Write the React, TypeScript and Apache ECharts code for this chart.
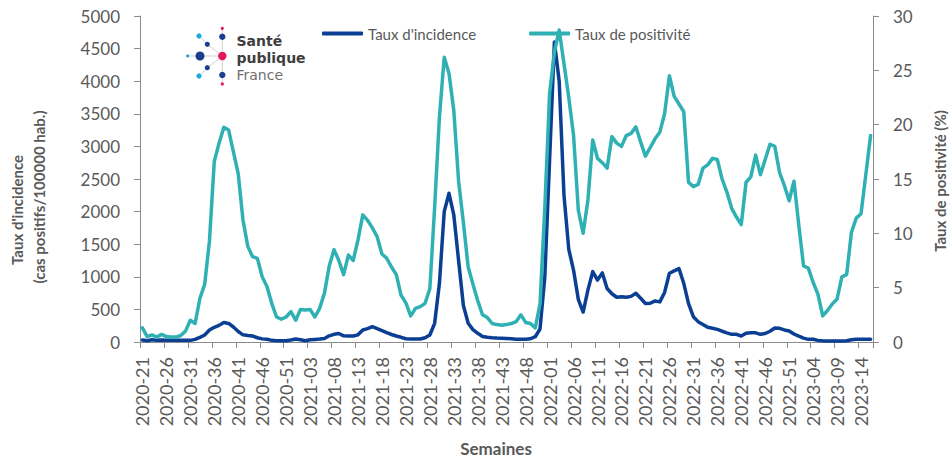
import React, { useEffect, useRef } from "react";
import * as echarts from "echarts";

const FONT = "Lato, 'Open Sans', 'Noto Sans', sans-serif";
const LOGO_FONT = "'DejaVu Sans', Lato, sans-serif";

// Week categories: 2020-21 .. 2023-16 (ISO weeks; 2020 has 53 weeks)
const START_YEAR = 2020;
const START_WEEK = 21;
const WEEKS_IN_YEAR: Record<number, number> = { 2020: 53, 2021: 52, 2022: 52, 2023: 52 };
const N_WEEKS = 153;

function buildWeeks(): string[] {
  const out: string[] = [];
  let y = START_YEAR;
  let w = START_WEEK;
  for (let k = 0; k < N_WEEKS; k++) {
    out.push(`${y}-${w < 10 ? "0" + w : w}`);
    w++;
    if (w > WEEKS_IN_YEAR[y]) {
      w = 1;
      y++;
    }
  }
  return out;
}
const weeks = buildWeeks();

// Taux d'incidence (cas positifs / 100000 hab.)
const incidence = [
  30, 20, 35, 25, 30, 25, 25, 25, 25, 25, 25,
  40, 72, 107, 184, 225, 255, 300, 285, 230, 160,
  110, 100, 92, 65, 48, 41, 25, 20, 20, 20,
  30, 46, 35, 20, 35, 40, 46, 55, 95, 118,
  130, 95, 92, 92, 110, 185, 205, 235, 205, 175,
  143, 115, 92, 72, 50, 46, 46, 46, 65, 107,
  287, 900, 1999, 2281, 1948, 1250, 560, 287, 190, 133,
  85, 72, 65, 60, 57, 55, 50, 41, 41, 41,
  50, 81, 200, 1000, 2800, 4600, 4000, 2250, 1420, 1100,
  650, 460, 800, 1080, 950, 1060, 820, 740, 686, 695,
  686, 700, 747, 670, 590, 595, 630, 615, 760, 1055,
  1090, 1125, 900, 590, 388, 312, 270, 225, 210, 194,
  165, 140, 118, 118, 92, 135, 143, 140, 118, 130,
  165, 215, 210, 185, 170, 123, 90, 60, 41, 41,
  25, 18, 15, 15, 15, 15, 18, 35, 41, 41, 41, 41,
];

// Taux de positivité (%)
const positivity = [
  1.3, 0.5, 0.65, 0.45, 0.7, 0.5, 0.45, 0.45, 0.6, 1.0, 2.0,
  1.7, 4.0, 5.3, 9.3, 16.6, 18.3, 19.75, 19.5, 17.5, 15.5,
  11.2, 8.8, 7.85, 7.7, 6.0, 5.1, 3.56, 2.3, 2.1, 2.3,
  2.8, 2.0, 3.0, 2.95, 3.0, 2.3, 3.1, 4.5, 7.0, 8.5,
  7.5, 6.2, 8.0, 7.5, 9.4, 11.7, 11.2, 10.5, 9.7, 8.1,
  7.7, 6.9, 6.2, 4.3, 3.6, 2.4, 3.1, 3.25, 3.56, 4.9,
  12.4, 20.7, 26.2, 24.7, 21.3, 14.8, 11.0, 6.9, 5.3, 3.8,
  2.5, 2.25, 1.7, 1.6, 1.55, 1.6, 1.7, 1.87, 2.5, 1.8,
  1.7, 1.3, 3.5, 12.4, 22.9, 26.7, 28.7, 25.6, 22.5, 19.0,
  12.1, 10.0, 13.1, 18.6, 16.9, 16.5, 16.0, 18.9, 18.3, 18.0,
  19.0, 19.2, 19.8, 18.4, 17.1, 17.9, 18.7, 19.3, 21.0, 24.5,
  22.6, 21.9, 21.2, 14.7, 14.3, 14.5, 16.0, 16.3, 16.9, 16.8,
  15.0, 13.8, 12.3, 11.5, 10.8, 14.7, 15.2, 17.2, 15.4, 16.8,
  18.2, 18.0, 15.6, 14.4, 13.0, 14.8, 10.8, 7.0, 6.8, 5.5,
  4.4, 2.4, 2.9, 3.5, 3.95, 6.0, 6.2, 10.1, 11.4, 11.8, 15.4, 19.0,
];

const DARK = "#0a3f93";
const TEAL = "#2fb1b4";
const AXIS = "#8c8c8c";
const TXT = "#595959";

export default function App() {
  const ref = useRef<HTMLDivElement>(null);

  useEffect(() => {
    document.body.style.margin = "0";
    if (!ref.current) return;
    const chart = echarts.init(ref.current, null, { renderer: "svg" });

    const logoDark = "#1d3f8f";
    const logoPink = "#e5175b";
    const logoLight = "#1ba8e0";
    const ln = (x1: number, y1: number, x2: number, y2: number) => ({
      type: "line",
      shape: { x1, y1, x2, y2 },
      style: { stroke: "#d0d0d0", lineWidth: 1 },
    });
    const dot = (cx: number, cy: number, r: number, fill: string) => ({
      type: "circle",
      shape: { cx, cy, r },
      style: { fill },
    });
    const logoText = (text: string, y: number, bold: boolean, fill: string) => ({
      type: "text",
      x: 236.5,
      y,
      style: {
        text,
        fill,
        font: `${bold ? "bold " : ""}14px ${LOGO_FONT}`,
        textAlign: "left",
        textVerticalAlign: "middle",
      },
    });

    const option: any = {
      animation: false,
      backgroundColor: "#ffffff",
      textStyle: { fontFamily: FONT },
      legend: {
        left: 317,
        top: 21,
        itemWidth: 41,
        itemHeight: 4,
        itemGap: 53,
        icon: "roundRect",
        textStyle: { fontSize: 15, color: TXT, fontFamily: FONT },
        data: ["Taux d'incidence", "Taux de positivité"],
      },
      grid: { left: 140, right: 78, top: 16, bottom: 120, containLabel: false },
      xAxis: {
        type: "category",
        data: weeks,
        boundaryGap: true,
        axisLine: { show: true, lineStyle: { color: AXIS, width: 1 } },
        axisTick: { show: true, interval: 4, length: 6, lineStyle: { color: AXIS } },
        axisLabel: {
          interval: 4,
          rotate: 90,
          fontSize: 18,
          color: TXT,
          fontFamily: FONT,
          margin: 15,
        },
        splitLine: { show: false },
      },
      yAxis: [
        {
          type: "value",
          min: 0,
          max: 5000,
          interval: 500,
          position: "left",
          axisLine: { show: true, lineStyle: { color: AXIS, width: 1 } },
          axisTick: { show: true, length: 6, lineStyle: { color: AXIS } },
          axisLabel: {
            fontSize: 17,
            color: TXT,
            fontFamily: FONT,
            margin: 20,
            formatter: (v: number) => String(v),
          },
          splitLine: { show: false },
        },
        {
          type: "value",
          min: 0,
          max: 30,
          interval: 5,
          position: "right",
          axisLine: { show: true, lineStyle: { color: AXIS, width: 1 } },
          axisTick: { show: true, length: 6, lineStyle: { color: AXIS } },
          axisLabel: {
            fontSize: 17,
            color: TXT,
            fontFamily: FONT,
            margin: 20,
            formatter: (v: number) => String(v),
          },
          splitLine: { show: false },
        },
      ],
      series: [
        {
          name: "Taux d'incidence",
          type: "line",
          yAxisIndex: 0,
          data: incidence,
          symbol: "none",
          lineStyle: { color: DARK, width: 3.5, join: "round", cap: "round" },
          itemStyle: { color: DARK },
        },
        {
          name: "Taux de positivité",
          type: "line",
          yAxisIndex: 1,
          data: positivity,
          symbol: "none",
          lineStyle: { color: TEAL, width: 3.5, join: "round", cap: "round" },
          itemStyle: { color: TEAL },
        },
      ],
      graphic: [
        {
          type: "text",
          x: 17,
          y: 210,
          rotation: Math.PI / 2,
          style: {
            text: "Taux d'incidence",
            fill: TXT,
            font: `bold 15px ${FONT}`,
            textAlign: "center",
            textVerticalAlign: "middle",
          },
        },
        {
          type: "text",
          x: 39,
          y: 197,
          rotation: Math.PI / 2,
          style: {
            text: "(cas positifs/100000 hab.)",
            fill: TXT,
            font: `bold 15px ${FONT}`,
            textAlign: "center",
            textVerticalAlign: "middle",
          },
        },
        {
          type: "text",
          x: 940,
          y: 181,
          rotation: Math.PI / 2,
          style: {
            text: "Taux de positivité (%)",
            fill: TXT,
            font: `bold 15px ${FONT}`,
            textAlign: "center",
            textVerticalAlign: "middle",
          },
        },
        {
          type: "text",
          x: 496,
          y: 448,
          style: {
            text: "Semaines",
            fill: TXT,
            font: `bold 17px ${FONT}`,
            textAlign: "center",
            textVerticalAlign: "middle",
          },
        },
        {
          type: "group",
          children: [
            ln(187.7, 56, 222.3, 56),
            ln(222.3, 28.3, 222.3, 84),
            ln(207.3, 44.3, 222.3, 56),
            ln(207.3, 67.7, 222.3, 56),
            ln(199, 36, 207.3, 44.3),
            ln(199, 76, 207.3, 67.7),
            dot(222.3, 28.3, 1.6, logoPink),
            dot(199, 36, 2.6, logoLight),
            dot(222.3, 36.7, 3.2, logoDark),
            dot(207.3, 44.3, 2.6, logoDark),
            dot(187.7, 56, 1.6, logoLight),
            dot(200, 56, 4.5, logoDark),
            dot(222.3, 56, 4.2, logoPink),
            dot(207.3, 67.7, 2.6, logoDark),
            dot(199, 76, 2.6, logoLight),
            dot(222.3, 75, 3.2, logoDark),
            dot(222.3, 84, 1.6, logoPink),
            logoText("Santé", 40.5, true, "#3e3e3e"),
            logoText("publique", 57.5, true, "#3e3e3e"),
            logoText("France", 74.5, false, "#707070"),
          ],
        },
      ],
    };

    chart.setOption(option);
    return () => {
      chart.dispose();
    };
  }, []);

  return <div ref={ref} style={{ width: 951, height: 462 }} />;
}
